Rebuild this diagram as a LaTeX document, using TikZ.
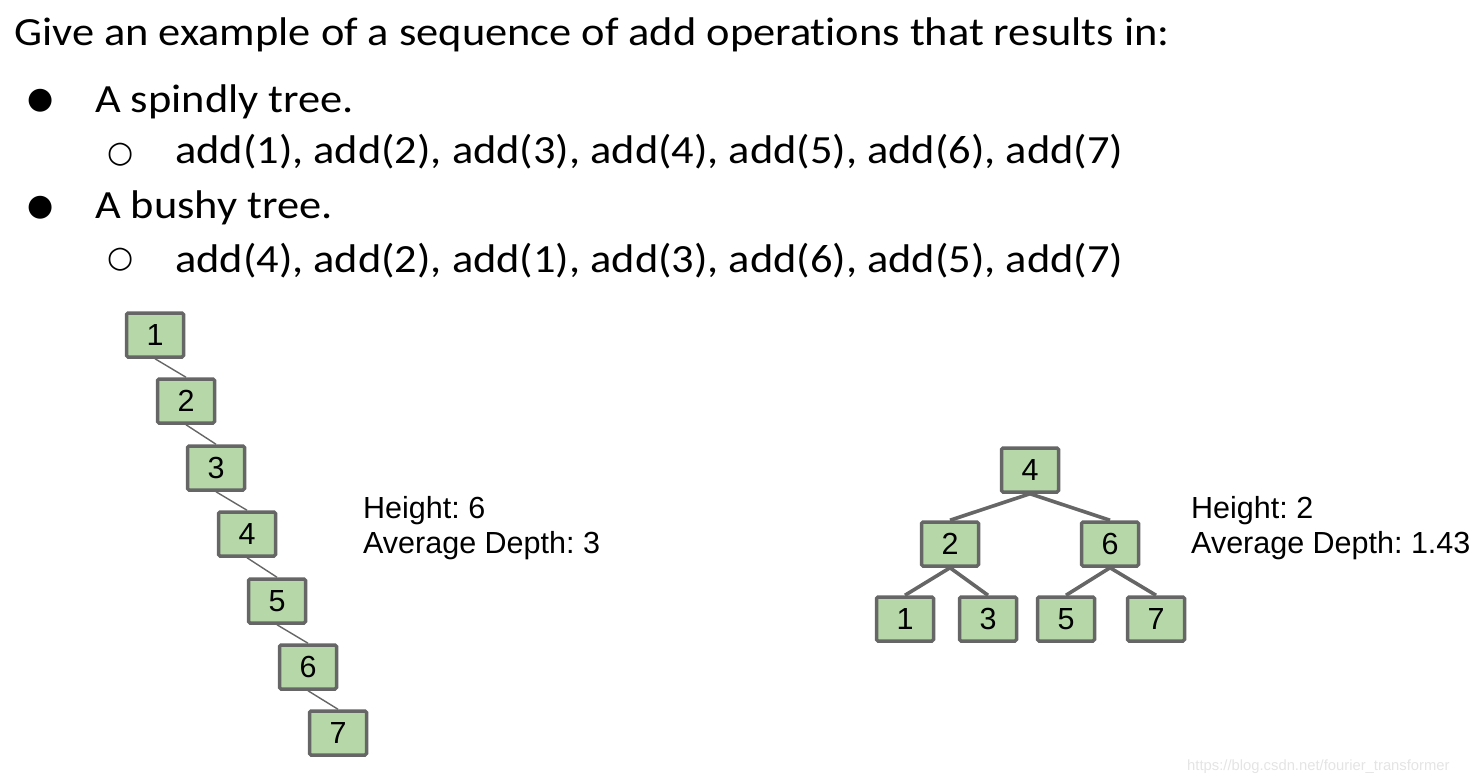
\documentclass[tikz,border=0pt]{standalone}
\usepackage{fontspec}
\setmainfont{Carlito}[FakeStretch=1.11, Ligatures=NoCommon]
\newfontfamily\arialfont{Liberation Sans}
\newfontfamily\symfont{DejaVu Sans}
\definecolor{boxgreen}{HTML}{B6D7A8}
\definecolor{boxgray}{HTML}{666666}
\definecolor{markgray}{HTML}{E4E4E4}

\begin{document}
\frenchspacing
\begin{tikzpicture}[
  x=1pt, y=-1pt,
  every node/.style={inner sep=0pt},
  keybox/.style={draw=boxgray, line width=3.5pt, fill=boxgreen,
                 rounded corners=1.5pt, minimum width=57pt, minimum height=44pt,
                 font=\arialfont\fontsize{30.5}{30.5}\selectfont},
  thinedge/.style={draw=boxgray, line width=1.4pt},
  thickedge/.style={draw=boxgray, line width=3.6pt},
  bodytext/.style={anchor=base west, font=\fontsize{40}{42}\selectfont},
  bulletmark/.style={font=\symfont\fontsize{30}{30}\selectfont},
  stattext/.style={anchor=base west, align=left,
                   font=\arialfont\fontsize{30.5}{35}\selectfont}
]
\useasboundingbox (0,0) rectangle (1475,782);

% question and bullets
\node[bodytext] (question) at (14,45) {Give an example of a sequence of add operations that results in:};
\node[bulletmark] (dotA) at (41,101) {●};
\node[bodytext] (spindly) at (95,112) {A spindly tree.};
\node[bulletmark] (ringA) at (121,155) {○};
\node[bodytext] (seqA) at (175,163) {add(1), add(2), add(3), add(4), add(5), add(6), add(7)};
\node[bulletmark] (dotB) at (41,208) {●};
\node[bodytext] (bushy) at (95,218) {A bushy tree.};
\node[bulletmark] (ringB) at (121,260) {○};
\node[bodytext] (seqB) at (175,272) {add(4), add(2), add(1), add(3), add(6), add(5), add(7)};

% spindly tree
\node[keybox] (s1) at (155,335) {1};
\node[keybox] (s2) at (186,401) {2};
\node[keybox] (s3) at (216,468) {3};
\node[keybox] (s4) at (247,534) {4};
\node[keybox] (s5) at (277,601) {5};
\node[keybox] (s6) at (308,667) {6};
\node[keybox] (s7) at (338,733) {7};
\draw[thinedge] (s1.south) -- (s2.north);
\draw[thinedge] (s2.south) -- (s3.north);
\draw[thinedge] (s3.south) -- (s4.north);
\draw[thinedge] (s4.south) -- (s5.north);
\draw[thinedge] (s5.south) -- (s6.north);
\draw[thinedge] (s6.south) -- (s7.north);
\node[stattext] (statA) at (363,553) {Height: 6\\Average Depth: 3};

% bushy tree
\node[keybox] (b4) at (1030,470) {4};
\node[keybox] (b2) at (950,544) {2};
\node[keybox] (b6) at (1110,544) {6};
\node[keybox] (b1) at (905,619) {1};
\node[keybox] (b3) at (988,619) {3};
\node[keybox] (b5) at (1066,619) {5};
\node[keybox] (b7) at (1156,619) {7};
\draw[thickedge] (b4.south) -- (b2.north);
\draw[thickedge] (b4.south) -- (b6.north);
\draw[thickedge] (b2.south) -- (b1.north);
\draw[thickedge] (b2.south) -- (b3.north);
\draw[thickedge] (b6.south) -- (b5.north);
\draw[thickedge] (b6.south) -- (b7.north);
\node[stattext] (statB) at (1191,553) {Height: 2\\Average Depth: 1.43};

\node[anchor=base west, text=markgray, font=\arialfont\fontsize{14.8}{14.8}\selectfont]
  (mark) at (1187,770) {https://blog.csdn.net/fourier\_transformer};
\end{tikzpicture}
\end{document}
